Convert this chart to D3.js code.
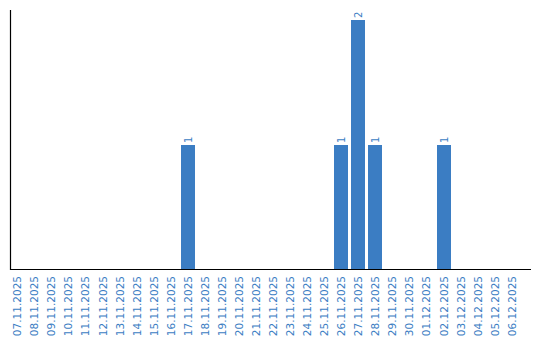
<!DOCTYPE html>
<html><head><meta charset="utf-8">
<script src="https://cdn.jsdelivr.net/npm/d3@7"></script>
<style>body{margin:0;background:#fff}</style>
</head><body>
<svg id="c" width="540" height="340"></svg>
<script>
const categories = ["07.11.2025","08.11.2025","09.11.2025","10.11.2025","11.11.2025","12.11.2025","13.11.2025","14.11.2025","15.11.2025","16.11.2025","17.11.2025","18.11.2025","19.11.2025","20.11.2025","21.11.2025","22.11.2025","23.11.2025","24.11.2025","25.11.2025","26.11.2025","27.11.2025","28.11.2025","29.11.2025","30.11.2025","01.12.2025","02.12.2025","03.12.2025","04.12.2025","05.12.2025","06.12.2025"];
const values = [0,0,0,0,0,0,0,0,0,0,1,0,0,0,0,0,0,0,0,1,2,1,0,0,0,1,0,0,0,0];
const yDomain = [0, 2];

const svg = d3.select("#c");
const color = "#3b7dc3";
const x = d3.scaleBand().domain(categories).range([9.5, 519.5]).paddingInner(3/17).paddingOuter(1.5/17*0.5);
const y = d3.scaleLinear().domain(yDomain).range([270, 20]);

// bars
svg.append("g").selectAll("rect").data(categories.map((c,i)=>({c,v:values[i]})).filter(d=>d.v>0))
  .join("rect")
  .attr("x", d=>Math.round(x(d.c)))
  .attr("width", Math.round(x.bandwidth()))
  .attr("y", d=>y(d.v))
  .attr("height", d=>y(0)-y(d.v))
  .attr("fill", color);

// value labels
svg.append("g").selectAll("text").data(categories.map((c,i)=>({c,v:values[i]})).filter(d=>d.v>0))
  .join("text")
  .attr("transform", d=>`translate(${Math.round(x(d.c))+x.bandwidth()/2},${y(d.v)-2}) rotate(-90)`)
  .attr("dy","0.35em")
  .attr("text-anchor","start")
  .attr("font-family","DejaVu Sans, Verdana, sans-serif")
  .attr("font-size","10px")
  .attr("fill", color)
  .text(d=>d.v);

// x axis
const xAxis = d3.axisBottom(x).tickSize(0).tickPadding(0);
const gx = svg.append("g").attr("transform","translate(0,270)").call(xAxis);
gx.select(".domain").remove();
gx.selectAll(".tick").attr("transform", d=>`translate(${Math.round(x(d))+x.bandwidth()/2},0)`);
gx.selectAll(".tick text")
  .attr("transform","rotate(-90)")
  .attr("x",-6).attr("y",0).attr("dy","0.35em")
  .attr("text-anchor","end")
  .attr("font-family","DejaVu Sans, Verdana, sans-serif")
  .attr("font-size","10.5px")
  .attr("fill", color);

// axis lines
svg.append("line").attr("x1",10.5).attr("x2",10.5).attr("y1",10).attr("y2",270).attr("stroke","#000").attr("stroke-width",1.2);
svg.append("line").attr("x1",10).attr("x2",531).attr("y1",269.5).attr("y2",269.5).attr("stroke","#000").attr("stroke-width",1.2);
</script>
</body></html>
